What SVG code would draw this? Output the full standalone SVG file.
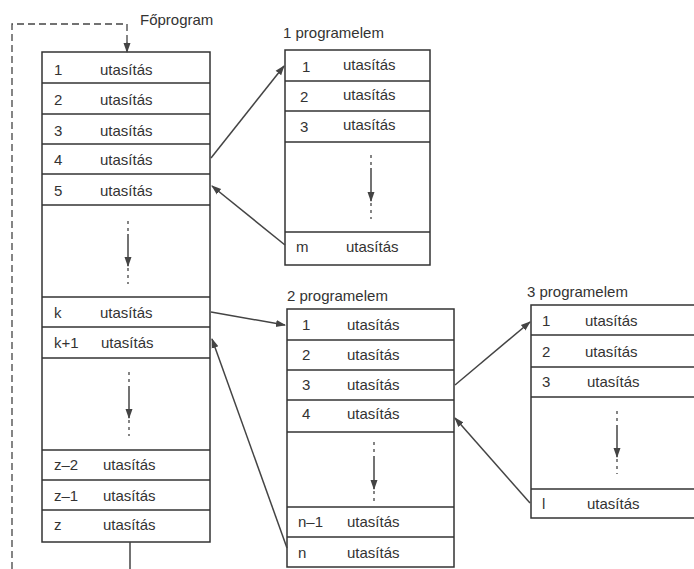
<svg xmlns="http://www.w3.org/2000/svg" width="694" height="569" viewBox="0 0 694 569">
<style>
.box{fill:#fff;stroke:#333;stroke-width:1.5}
.row{stroke:#333;stroke-width:1.5}
text{font-family:"Liberation Sans",Arial,sans-serif;font-size:15px;fill:#333}
.con{stroke:#444;stroke-width:1.5;fill:none}
.dash{stroke:#444;stroke-width:1.3;fill:none;stroke-dasharray:7 4}
.dot{stroke:#444;stroke-width:1.3;fill:none;stroke-dasharray:3 4}
</style>
<defs>
<marker id="ah" viewBox="0 0 10 10" refX="9" refY="5" markerWidth="10" markerHeight="10" markerUnits="userSpaceOnUse" orient="auto">
<path d="M0,1.5 L10,5 L0,8.5 Z" fill="#444"/>
</marker>
</defs>
<rect width="694" height="569" fill="#fff"/>

<g id="foprogram">
<text x="140" y="25">Főprogram</text>
<rect class="box" x="42" y="52" width="168" height="490"/>
<line class="row" x1="42" y1="83" x2="210" y2="83"/>
<line class="row" x1="42" y1="114" x2="210" y2="114"/>
<line class="row" x1="42" y1="144" x2="210" y2="144"/>
<line class="row" x1="42" y1="174" x2="210" y2="174"/>
<line class="row" x1="42" y1="205" x2="210" y2="205"/>
<line class="row" x1="42" y1="297" x2="210" y2="297"/>
<line class="row" x1="42" y1="327" x2="210" y2="327"/>
<line class="row" x1="42" y1="358" x2="210" y2="358"/>
<line class="row" x1="42" y1="450" x2="210" y2="450"/>
<line class="row" x1="42" y1="480" x2="210" y2="480"/>
<line class="row" x1="42" y1="510" x2="210" y2="510"/>
<text x="54" y="75">1</text><text x="100" y="75">utasítás</text>
<text x="54" y="105">2</text><text x="100" y="105">utasítás</text>
<text x="54" y="136">3</text><text x="100" y="136">utasítás</text>
<text x="54" y="165">4</text><text x="100" y="165">utasítás</text>
<text x="54" y="196">5</text><text x="100" y="196">utasítás</text>
<text x="54" y="318">k</text><text x="100" y="318">utasítás</text>
<text x="54" y="348">k+1</text><text x="101" y="348">utasítás</text>
<text x="54" y="470">z–2</text><text x="103" y="470">utasítás</text>
<text x="54" y="501">z–1</text><text x="103" y="501">utasítás</text>
<text x="54" y="530">z</text><text x="103" y="530">utasítás</text>
<line class="dot" x1="128" y1="221" x2="128" y2="234"/>
<line class="con" x1="128" y1="234" x2="128" y2="266" marker-end="url(#ah)"/>
<line class="dot" x1="128" y1="268" x2="128" y2="284"/>
<line class="dot" x1="129" y1="372" x2="129" y2="386"/>
<line class="con" x1="129" y1="386" x2="129" y2="418" marker-end="url(#ah)"/>
<line class="dot" x1="129" y1="420" x2="129" y2="436"/>
</g>

<g id="programelem1">
<text x="283" y="38">1 programelem</text>
<rect class="box" x="285" y="50" width="145" height="215"/>
<line class="row" x1="285" y1="81" x2="430" y2="81"/>
<line class="row" x1="285" y1="111" x2="430" y2="111"/>
<line class="row" x1="285" y1="142" x2="430" y2="142"/>
<line class="row" x1="285" y1="232" x2="430" y2="232"/>
<text x="302" y="72">1</text><text x="343" y="70">utasítás</text>
<text x="300" y="102">2</text><text x="343" y="100">utasítás</text>
<text x="300" y="132">3</text><text x="343" y="130">utasítás</text>
<text x="296" y="252">m</text><text x="346" y="252">utasítás</text>
<line class="dot" x1="371" y1="155" x2="371" y2="168"/>
<line class="con" x1="371" y1="168" x2="371" y2="201" marker-end="url(#ah)"/>
<line class="dot" x1="371" y1="203" x2="371" y2="219"/>
</g>

<g id="programelem2">
<text x="287" y="301">2 programelem</text>
<rect class="box" x="287" y="309" width="167" height="258"/>
<line class="row" x1="287" y1="340" x2="454" y2="340"/>
<line class="row" x1="287" y1="370" x2="454" y2="370"/>
<line class="row" x1="287" y1="400" x2="454" y2="400"/>
<line class="row" x1="287" y1="432" x2="454" y2="432"/>
<line class="row" x1="287" y1="507" x2="454" y2="507"/>
<line class="row" x1="287" y1="537" x2="454" y2="537"/>
<text x="302" y="330">1</text><text x="347" y="330">utasítás</text>
<text x="302" y="360">2</text><text x="347" y="360">utasítás</text>
<text x="302" y="390">3</text><text x="347" y="390">utasítás</text>
<text x="302" y="419">4</text><text x="347" y="419">utasítás</text>
<text x="298" y="527">n–1</text><text x="347" y="527">utasítás</text>
<text x="298" y="558">n</text><text x="347" y="558">utasítás</text>
<line class="dot" x1="374" y1="442" x2="374" y2="456"/>
<line class="con" x1="374" y1="456" x2="374" y2="489" marker-end="url(#ah)"/>
<line class="dot" x1="374" y1="491" x2="374" y2="503"/>
</g>

<g id="programelem3">
<text x="527" y="297">3 programelem</text>
<rect class="box" x="531" y="305" width="170" height="213"/>
<line class="row" x1="531" y1="335" x2="701" y2="335"/>
<line class="row" x1="531" y1="367" x2="701" y2="367"/>
<line class="row" x1="531" y1="397" x2="701" y2="397"/>
<line class="row" x1="531" y1="489" x2="701" y2="489"/>
<text x="542" y="326">1</text><text x="585" y="326">utasítás</text>
<text x="542" y="357">2</text><text x="585" y="357">utasítás</text>
<text x="542" y="387">3</text><text x="587" y="387">utasítás</text>
<text x="542" y="509">l</text><text x="587" y="509">utasítás</text>
<line class="dot" x1="617" y1="411" x2="617" y2="425"/>
<line class="con" x1="617" y1="425" x2="617" y2="457" marker-end="url(#ah)"/>
<line class="dot" x1="617" y1="459" x2="617" y2="474"/>
</g>

<g id="connectors">
<path class="dash" d="M12,569 L12,24 L127,24 L127,42"/>
<line class="con" x1="127" y1="42" x2="127" y2="52" marker-end="url(#ah)"/>
<line class="con" x1="130" y1="542" x2="130" y2="569"/>
<line class="con" x1="211" y1="158" x2="284" y2="66" marker-end="url(#ah)"/>
<line class="con" x1="285" y1="245" x2="212" y2="186" marker-end="url(#ah)"/>
<line class="con" x1="211" y1="312" x2="285" y2="325" marker-end="url(#ah)"/>
<line class="con" x1="287" y1="548" x2="212" y2="339" marker-end="url(#ah)"/>
<line class="con" x1="455" y1="385" x2="530" y2="322" marker-end="url(#ah)"/>
<line class="con" x1="530" y1="503" x2="455" y2="418" marker-end="url(#ah)"/>
</g>
</svg>
